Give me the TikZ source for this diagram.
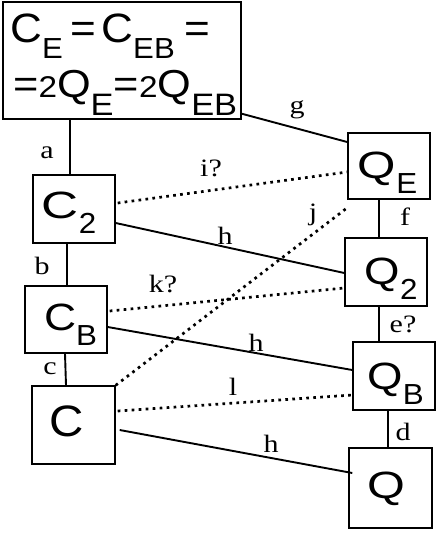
\documentclass[tikz,border=0pt]{standalone}
\usepackage{fontspec}
\setmainfont{Liberation Serif}
\newfontfamily\arialfont{Liberation Sans}
\usetikzlibrary{calc}
% sub text: drop, size, text
\newcommand{\lsubx}[3]{\raisebox{-#1}{\fontsize{#2}{#2}\selectfont #3}}
% box text with subscript: h-offset (twice), v-drop, main xscale, main size, main letter, subscript
\newcommand{\bx}[6]{\hspace*{#1}\raisebox{-#2}[\height][\depth]{\arialfont\scalebox{#3}[1]{\fontsize{#4}{#4}\selectfont #5}\scalebox{1.08}[1]{\lsubx{15pt}{29}{#6}}}}
% box text without subscript
\newcommand{\bxs}[5]{\hspace*{#1}\raisebox{-#2}[\height][\depth]{\arialfont\scalebox{#3}[1]{\fontsize{#4}{#4}\selectfont #5}}}
\newcommand{\smtwo}{{\fontsize{30}{30}\selectfont 2}}
\newcommand{\lbl}[1]{\scalebox{1.2}[1]{\fontsize{25}{25}\selectfont #1}}
\tikzset{
  box/.style={draw, line width=1.4pt, inner sep=0pt, minimum width=82pt, minimum height=68pt},
  link/.style={line width=1.9pt},
  dots/.style={line width=2.7pt, dash pattern=on 2.7pt off 4.3pt},
  lab/.style={inner sep=0pt}
}
\begin{document}
\begin{tikzpicture}[x=1pt,y=-1pt]
\useasboundingbox (0,0) rectangle (436,547);
\fill[white] (0,0) rectangle (436,547);
% boxes
\node[box, minimum width=238pt, minimum height=117pt] (top) at (122,60.5) {};
\node[anchor=base west, inner sep=0pt] (topl1) at (10,42) {\resizebox{200pt}{\height}{\arialfont\fontsize{41}{41}\selectfont C\lsubx{16pt}{29}{E}\kern7pt=\kern5pt C\lsubx{16pt}{29}{EB}\kern9pt=}};
\node[anchor=base west, inner sep=0pt] (topl2) at (13,97) {\resizebox{224pt}{\height}{\arialfont\fontsize{39}{39}\selectfont =\smtwo Q\lsubx{18pt}{31}{E}=\smtwo Q\lsubx{18pt}{31}{EB}}};
\node[box] (C2) at (74,209) {\bx{-10pt}{4pt}{1.35}{38}{C}{2}};
\node[box, minimum height=67pt] (CB) at (66,319.5) {\bx{9pt}{5.5pt}{1.17}{38}{C}{B}};
\node[box, minimum width=83pt, minimum height=78pt] (C) at (73.5,425) {\bxs{-13pt}{-3.5pt}{1.08}{44}{C}};
\node[box, minimum height=66pt] (QE) at (389,166) {\bx{-3pt}{6.5pt}{1.3}{38}{Q}{E}};
\node[box] (Q2) at (386,272) {\bx{10pt}{6.5pt}{1.2}{38}{Q}{2}};
\node[box] (QB) at (394,376) {\bx{3pt}{8pt}{1.2}{38}{Q}{B}};
\node[box, minimum width=83pt, minimum height=80pt] (Q) at (390.5,488) {\bxs{-9pt}{1pt}{1.28}{38}{Q}};
% connectors
\draw[link] ($(top.south)+(-52,0)$) -- ($(C2.north)+(-4,0)$);
\draw[link] ($(top.south east)+(0,-6)$) -- ($(QE.north west)+(1,10)$);
\draw[dots] ($(C2.east)+(2,-6)$) -- ($(QE.west)+(0,6)$);
\draw[dots] (C.north east) -- ($(QE.south west)+(0,8)$);
\draw[link] ($(C2.east)+(0,14)$) -- ($(Q2.west)+(0,1)$);
\draw[link] ($(QE.south)+(-10,0)$) -- ($(Q2.north)+(-7,0)$);
\draw[link] ($(C2.south)+(-7,0)$) -- ($(CB.north)+(1,0)$);
\draw[dots] ($(CB.east)+(2,-8.5)$) -- ($(Q2.west)+(0,16)$);
\draw[link] ($(CB.east)+(0,7.5)$) -- ($(QB.west)+(0,-6)$);
\draw[link] ($(Q2.south)+(-7,0)$) -- ($(QB.north)+(-15,0)$);
\draw[link] ($(CB.south)+(-1,0)$) -- ($(C.north)+(-7.5,0)$);
\draw[dots] ($(C.east)+(2,-14)$) -- ($(QB.west)+(0,19)$);
\draw[link] ($(C.east)+(4,5)$) -- ($(Q.west)+(4,-15)$);
\draw[link] ($(QB.south)+(-6,0)$) -- ($(Q.north)+(-2.5,0)$);
% labels
\node[lab] (la) at (47,153) {\lbl{a}};
\node[lab] (lg) at (297,110) {\lbl{g}};
\node[lab] (li) at (211,168) {\lbl{i?}};
\node[lab] (lh1) at (225,236) {\lbl{h}};
\node[lab] (lj) at (313,215) {\lbl{j}};
\node[lab] (lf) at (405,217) {\lbl{f}};
\node[lab] (lb) at (42,266) {\lbl{b}};
\node[lab] (lk) at (163,284) {\lbl{k?}};
\node[lab] (le) at (403,324) {\lbl{e?}};
\node[lab] (lh2) at (256,343) {\lbl{h}};
\node[lab] (lc) at (50,369) {\lbl{c}};
\node[lab] (ll) at (233,387) {\lbl{l}};
\node[lab] (ld) at (403,432) {\lbl{d}};
\node[lab] (lh3) at (271,444) {\lbl{h}};
\end{tikzpicture}
\end{document}
